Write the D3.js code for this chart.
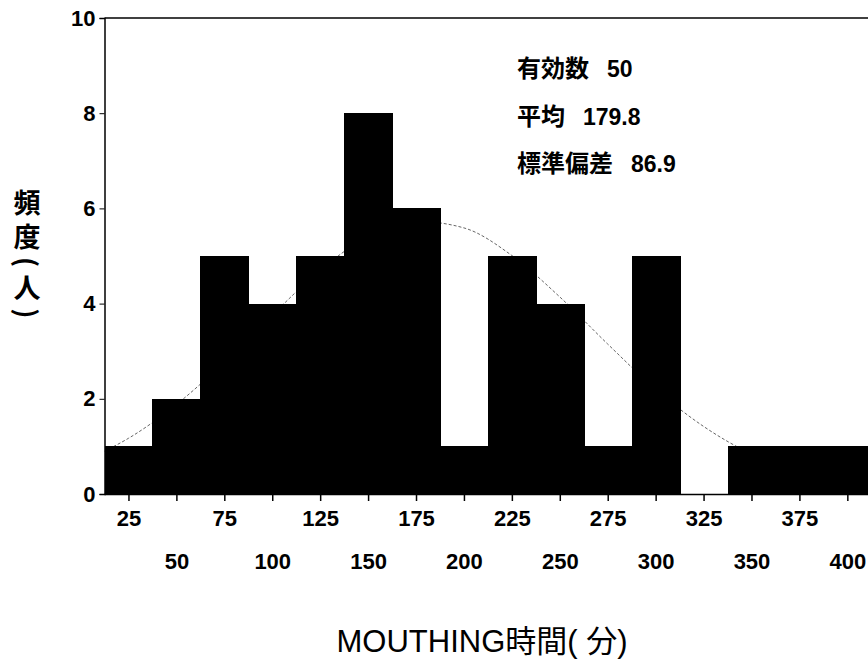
<!DOCTYPE html>
<html>
<head>
<meta charset="utf-8">
<script src="https://cdn.jsdelivr.net/npm/d3@7"></script>
<style>
    body { margin: 0; background: #fff; }
    svg { display: block; }
</style>
</head>
<body>
<svg id="chart" width="868" height="659"></svg>
<script>
// histogram bins (center of each 25-minute class) and counts
const binCenters = [25, 50, 75, 100, 125, 150, 175, 200, 225, 250, 275, 300, 325, 350, 375, 400];
const counts = [1, 2, 5, 4, 5, 8, 6, 1, 5, 4, 1, 5, 0, 1, 1, 1];
const binWidth = 25;

const yTicks = [0, 2, 4, 6, 8, 10];

// fitted curve
const curveX = [12.5, 25, 50, 75, 100, 125, 150, 175, 200, 225, 250, 275, 300, 325, 350, 375, 400, 412.5];
const curveY = [0.9, 1.17, 1.88, 2.77, 3.76, 4.7, 5.41, 5.73, 5.59, 5.01, 4.14, 3.15, 2.2, 1.42, 0.84, 0.46, 0.23, 0.16];

const statLabels = ["有効数", "平均", "標準偏差"];
const statValues = ["50", "179.8", "86.9"];

const yTitle = "頻度(人)";
const xTitle = "MOUTHING時間( 分)";

const FONT = "'Liberation Sans', Arial, 'Noto Sans CJK JP', sans-serif";
const CJK = "'Noto Sans CJK JP', 'Liberation Sans', sans-serif";

const svg = d3.select("#chart");

const x = d3.scaleLinear().domain([12.5, 412.5]).range([104.5, 871.3]);
const y = d3.scaleLinear().domain([0, 10]).range([494, 18]);


function drawCurve() {
    const pts = curveX.map((v, i) => [v, curveY[i]]);
    const line = d3.line()
        .x(d => x(d[0]))
        .y(d => y(d[1]))
        .curve(d3.curveMonotoneX);

    svg.append("path")
        .datum(pts)
        .attr("d", line)
        .attr("fill", "none")
        .attr("stroke", "#666")
        .attr("stroke-width", 1)
        .attr("stroke-dasharray", "3,2");
}


function drawBars() {
    svg.append("g")
        .attr("shape-rendering", "crispEdges")
        .selectAll("rect")
        .data(binCenters)
        .join("rect")
        .attr("x", d => x(d - binWidth / 2))
        .attr("width", d => x(d + binWidth / 2) - x(d - binWidth / 2) + 1)
        .attr("y", (d, i) => y(counts[i]))
        .attr("height", (d, i) => y(0) - y(counts[i]))
        .attr("fill", "#000");
}


function drawAxes() {
    // frame: left axis and the top line
    svg.append("line")
        .attr("x1", x(12.5)).attr("x2", 868)
        .attr("y1", y(10)).attr("y2", y(10))
        .attr("stroke", "#000").attr("stroke-width", 1.5);

    const yAxis = svg.append("g")
        .attr("transform", `translate(${x(12.5)},0)`)
        .call(d3.axisLeft(y).tickValues(yTicks).tickSize(5).tickPadding(4).tickFormat(d3.format("d")));

    yAxis.select(".domain").attr("stroke", "#000").attr("stroke-width", 1.5);
    yAxis.selectAll("text")
        .style("font", `bold 22px ${FONT}`)
        .attr("fill", "#000");

    const xAxis = svg.append("g")
        .attr("transform", `translate(0,${y(0)})`)
        .call(d3.axisBottom(x).tickValues(binCenters).tickSize(7).tickSizeOuter(0));

    xAxis.select(".domain")
        .attr("stroke", "#000").attr("stroke-width", 1.5)
        .attr("d", `M${x(12.5)},0.5H868`);
    xAxis.selectAll("line").attr("stroke-width", 1.5);

    // labels alternate between two rows
    xAxis.selectAll("text")
        .style("font", `bold 22px ${FONT}`)
        .attr("fill", "#000")
        .attr("dy", null)
        .attr("y", (d, i) => i % 2 === 0 ? 32 : 75);
}


function drawStats() {
    const g = svg.append("g")
        .attr("transform", "translate(517,0)");

    g.selectAll("text")
        .data(statLabels)
        .join("text")
        .attr("x", 0)
        .attr("y", (d, i) => 77 + i * 47.6)
        .style("font", `bold 24px ${CJK}`)
        .attr("fill", "#000")
        .each(function(d, i) {
            d3.select(this).append("tspan").text(d);
            d3.select(this).append("tspan")
                .attr("dx", 18)
                .style("font", `bold 23px ${FONT}`)
                .text(statValues[i]);
        });
}


function drawTitles() {
    // vertical title; the ascii parens turn sideways in vertical writing
    svg.append("text")
        .attr("x", 27)
        .attr("y", 189)
        .style("writing-mode", "vertical-rl")
        .style("text-orientation", "mixed")
        .style("letter-spacing", "7px")
        .style("font", `bold 27px ${CJK}`)
        .attr("fill", "#000")
        .text(yTitle);

    svg.append("text")
        .attr("x", 482)
        .attr("y", 652)
        .attr("text-anchor", "middle")
        .style("font", `31px ${FONT}`)
        .attr("fill", "#000")
        .text(xTitle);
}


drawCurve();
drawBars();
drawAxes();
drawStats();
drawTitles();
</script>
</body>
</html>
